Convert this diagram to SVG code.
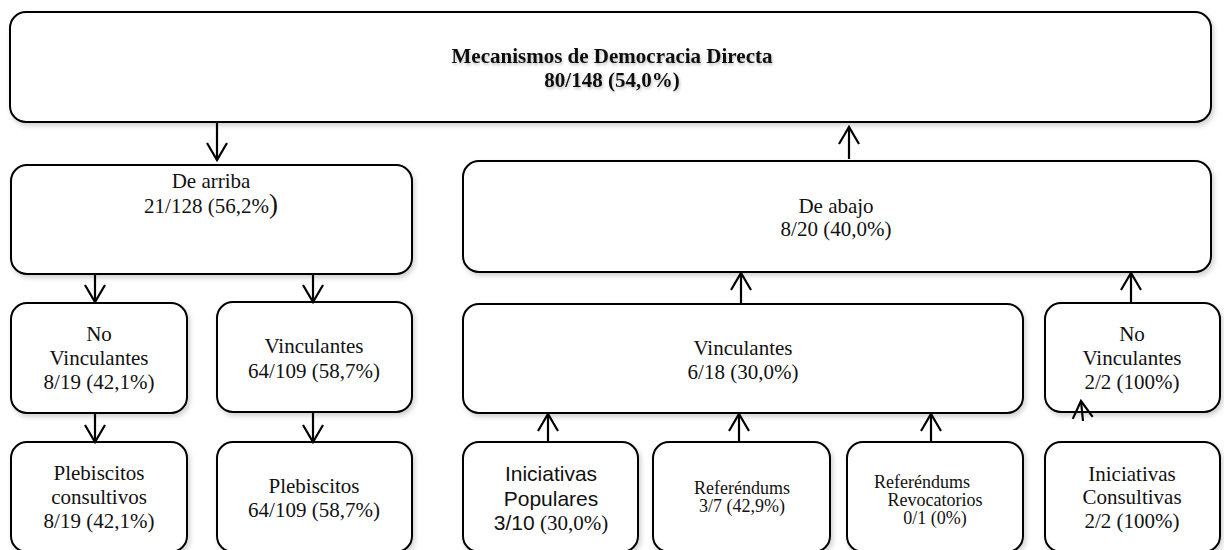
<svg xmlns="http://www.w3.org/2000/svg" width="1224" height="550" viewBox="0 0 1224 550">
<defs>
<filter id="sh" x="-5%" y="-10%" width="110%" height="130%">
<feDropShadow dx="2" dy="3" stdDeviation="2.5" flood-color="#000" flood-opacity="0.18"/>
</filter>
<filter id="tsh" x="-5%" y="-30%" width="110%" height="160%">
<feDropShadow dx="1" dy="2" stdDeviation="1.5" flood-color="#000" flood-opacity="0.25"/>
</filter>
<marker id="chev" markerUnits="userSpaceOnUse" markerWidth="30" markerHeight="30" viewBox="-20 -15 30 30" refX="0" refY="0" orient="auto" overflow="visible">
<path d="M-17,-10 L0,0 L-17,10" fill="none" stroke="#000" stroke-width="2.2" stroke-linejoin="miter"/>
</marker>
<style>
.box{fill:#fff;stroke:#000;stroke-width:2;filter:url(#sh)}
.t{font-family:"Liberation Serif","Times New Roman",serif;font-size:21px;fill:#111;text-anchor:middle}
.b{font-weight:bold;filter:url(#tsh)}
.s{font-size:18px}
.sans{font-family:"Liberation Sans",Arial,sans-serif}
.arr{fill:none;stroke:#000;stroke-width:2.2;marker-end:url(#chev)}
</style>
</defs>

<g id="n-mecanismos">
<rect class="box" x="10" y="12" width="1201" height="110" rx="16"/>
<text class="t b" x="612" y="63">Mecanismos de Democracia Directa</text>
<text class="t b" x="612" y="87">80/148 (54,0%)</text>
</g>

<g id="n-dearriba">
<rect class="box" x="11" y="165" width="401" height="109" rx="16"/>
<text class="t" x="211" y="188">De arriba</text>
<text class="t" x="211" y="213">21/128 (56,2%<tspan font-size="27">)</tspan></text>
</g>

<g id="n-deabajo">
<rect class="box" x="463" y="161" width="748" height="111" rx="16"/>
<text class="t" x="836" y="213">De abajo</text>
<text class="t" x="836" y="236">8/20 (40,0%)</text>
</g>

<g id="n-novinc-l">
<rect class="box" x="11" y="303" width="176" height="110" rx="16"/>
<text class="t" x="99" y="341">No</text>
<text class="t" x="99" y="365">Vinculantes</text>
<text class="t" x="99" y="389">8/19 (42,1%)</text>
</g>

<g id="n-vinc-l">
<rect class="box" x="217" y="302" width="195" height="110" rx="16"/>
<text class="t" x="314" y="353">Vinculantes</text>
<text class="t" x="314" y="378">64/109 (58,7%)</text>
</g>

<g id="n-vinc-r">
<rect class="box" x="463" y="304" width="560" height="109" rx="16"/>
<text class="t" x="743" y="355">Vinculantes</text>
<text class="t" x="743" y="379">6/18 (30,0%)</text>
</g>

<g id="n-novinc-r">
<rect class="box" x="1045" y="303" width="175" height="109" rx="16"/>
<text class="t" x="1132" y="341">No</text>
<text class="t" x="1132" y="365">Vinculantes</text>
<text class="t" x="1132" y="389">2/2 (100%)</text>
</g>

<g id="n-pleb-cons">
<rect class="box" x="11" y="442" width="176" height="110" rx="16"/>
<text class="t" x="99" y="480">Plebiscitos</text>
<text class="t" x="99" y="504">consultivos</text>
<text class="t" x="99" y="528">8/19 (42,1%)</text>
</g>

<g id="n-pleb">
<rect class="box" x="217" y="442" width="195" height="110" rx="16"/>
<text class="t" x="314" y="493">Plebiscitos</text>
<text class="t" x="314" y="517">64/109 (58,7%)</text>
</g>

<g id="n-inic-pop">
<rect class="box" x="463" y="442" width="175" height="110" rx="16"/>
<text class="t sans" x="551" y="481">Iniciativas</text>
<text class="t sans" x="551" y="506">Populares</text>
<text class="t" x="551" y="530"><tspan class="sans">3/10</tspan> (30,0%)</text>
</g>

<g id="n-ref">
<rect class="box" x="653" y="442" width="177" height="110" rx="16"/>
<text class="t s" x="742" y="494">Referéndums</text>
<text class="t s" x="742" y="512">3/7 (42,9%)</text>
</g>

<g id="n-ref-rev">
<rect class="box" x="847" y="442" width="176" height="110" rx="16"/>
<text class="t s" x="922" y="488">Referéndums</text>
<text class="t s" x="935" y="506">Revocatorios</text>
<text class="t s" x="935" y="524">0/1 (0%)</text>
</g>

<g id="n-inic-cons">
<rect class="box" x="1045" y="442" width="175" height="110" rx="16"/>
<text class="t" x="1132" y="481">Iniciativas</text>
<text class="t" x="1132" y="504">Consultivas</text>
<text class="t" x="1132" y="528">2/2 (100%)</text>
</g>

<g id="connectors">
<path class="arr" d="M217,122 L217,160"/>
<path class="arr" d="M849,159 L849,127"/>
<path class="arr" d="M95,274 L95,302"/>
<path class="arr" d="M313,274 L313,302"/>
<path class="arr" d="M741,304 L741,273"/>
<path class="arr" d="M1131,303 L1131,273"/>
<path class="arr" d="M95,413 L95,442"/>
<path class="arr" d="M313,413 L313,442"/>
<path class="arr" d="M548,442 L548,414"/>
<path class="arr" d="M739,442 L739,414"/>
<path class="arr" d="M931,442 L931,414"/>
<path class="arr" d="M1083,421 L1081,401"/>
</g>
</svg>
